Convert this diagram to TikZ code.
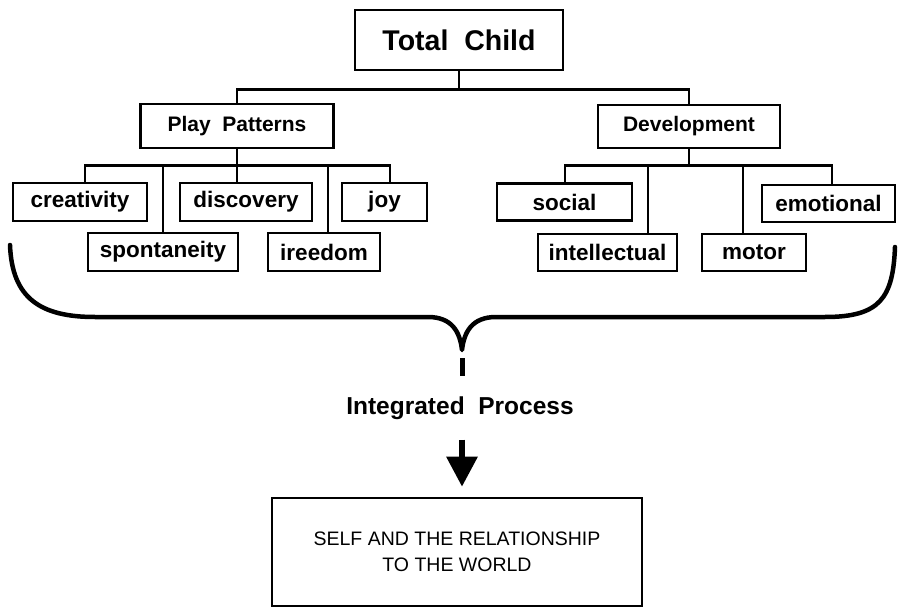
\documentclass[tikz,border=0pt]{standalone}
\usepackage{fontspec}
\setmainfont{Liberation Sans}
\usetikzlibrary{arrows.meta}
\tikzset{
  box/.style={draw, line width=2.6pt, inner sep=0pt, rectangle},
  topbox/.style={box, font=\bfseries\fontsize{28.5}{30}\selectfont},
  midbox/.style={box, font=\bfseries\fontsize{21}{24}\selectfont},
  leaf/.style={box, minimum height=38pt, font=\bfseries\fontsize{22.5}{24}\selectfont},
  conn/.style={line width=2.6pt},
  bracepath/.style={line width=4.5pt, line cap=round, line join=round},
}
\begin{document}
\begin{tikzpicture}[x=1pt,y=-1pt]
\useasboundingbox (0,0) rectangle (900,610);
% top level
\node[topbox, minimum width=208pt, minimum height=60pt] (total) at (459,40) {Total\ \ Child};
\node[midbox, minimum width=193pt, minimum height=44pt] (play) at (237,126) {Play\ \ Patterns};
\node[midbox, minimum width=182pt, minimum height=43pt] (dev) at (689,126.5) {Development};
% play children
\node[leaf, minimum width=134pt] (creativity) at (80,202) {creativity};
\node[leaf, minimum width=132pt] (discovery) at (246,202) {discovery};
\node[leaf, minimum width=85pt] (joy) at (384.5,202) {joy};
\node[leaf, minimum width=150pt] (spont) at (163,252) {spontaneity};
\node[leaf, minimum width=112pt] (freedom) at (324,252) {ireedom};
% development children
\node[leaf, minimum width=135pt, minimum height=37pt] (social) at (564.5,202) {social};
\node[leaf, minimum width=133pt, minimum height=37pt] (emotional) at (828.5,203.5) {emotional};
\node[leaf, minimum width=139pt, minimum height=37pt] (intel) at (607.5,252.5) {intellectual};
\node[leaf, minimum width=104pt, minimum height=37pt] (motor) at (754,252.5) {motor};
% connectors
\draw[conn] (total.south) -- ++(0,18) -| (play.north);
\draw[conn] (total.south) -- ++(0,18) -| (dev.north);
\draw[conn] (play.south) -- ++(0,16) -| ([xshift=5pt]creativity.north);
\draw[conn] (play.south) -- ++(0,16) -| (spont.north);
\draw[conn] (play.south) -- ++(0,16) -| ([xshift=-9pt]discovery.north);
\draw[conn] (play.south) -- ++(0,16) -| ([xshift=4pt]freedom.north);
\draw[conn] (play.south) -- ++(0,16) -| ([xshift=5.5pt]joy.north);
\draw[conn] (dev.south) -- ++(0,16) -| ([xshift=0.5pt]social.north);
\draw[conn] (dev.south) -- ++(0,16) -| ([xshift=40.5pt]intel.north);
\draw[conn] (dev.south) -- ++(0,16) -| ([xshift=-11pt]motor.north);
\draw[conn] (dev.south) -- ++(0,16) -| ([xshift=3.5pt]emotional.north);
% brace
\coordinate (cusp) at (462,350);
\draw[bracepath] (10,245) .. controls (12,298) and (40,317) .. (95,317)
  -- (428,317) .. controls (452,317) and (460,332) .. (cusp)
  .. controls (464,332) and (472,317) .. (496,317)
  -- (825,317) .. controls (880,317) and (893,298) .. (895,247);
% integrated process
\node[font=\bfseries\fontsize{24.5}{26}\selectfont, inner sep=0pt] (ip) at (460,408) {Integrated\ \ Process};
\draw[line width=5pt] ([yshift=-8pt]cusp) -- ([yshift=-26pt]cusp);
\node[box, minimum width=370pt, minimum height=108pt, align=center,
      font=\fontsize{19.5}{26}\selectfont] (self) at (457,552)
      {SELF AND THE RELATIONSHIP\\TO THE WORLD};
\draw[line width=6pt, -{Triangle[width=30pt,length=30pt]}]
  ([xshift=2pt,yshift=-20pt]ip.south) -- ([xshift=5pt,yshift=10pt]self.north);
\end{tikzpicture}
\end{document}
